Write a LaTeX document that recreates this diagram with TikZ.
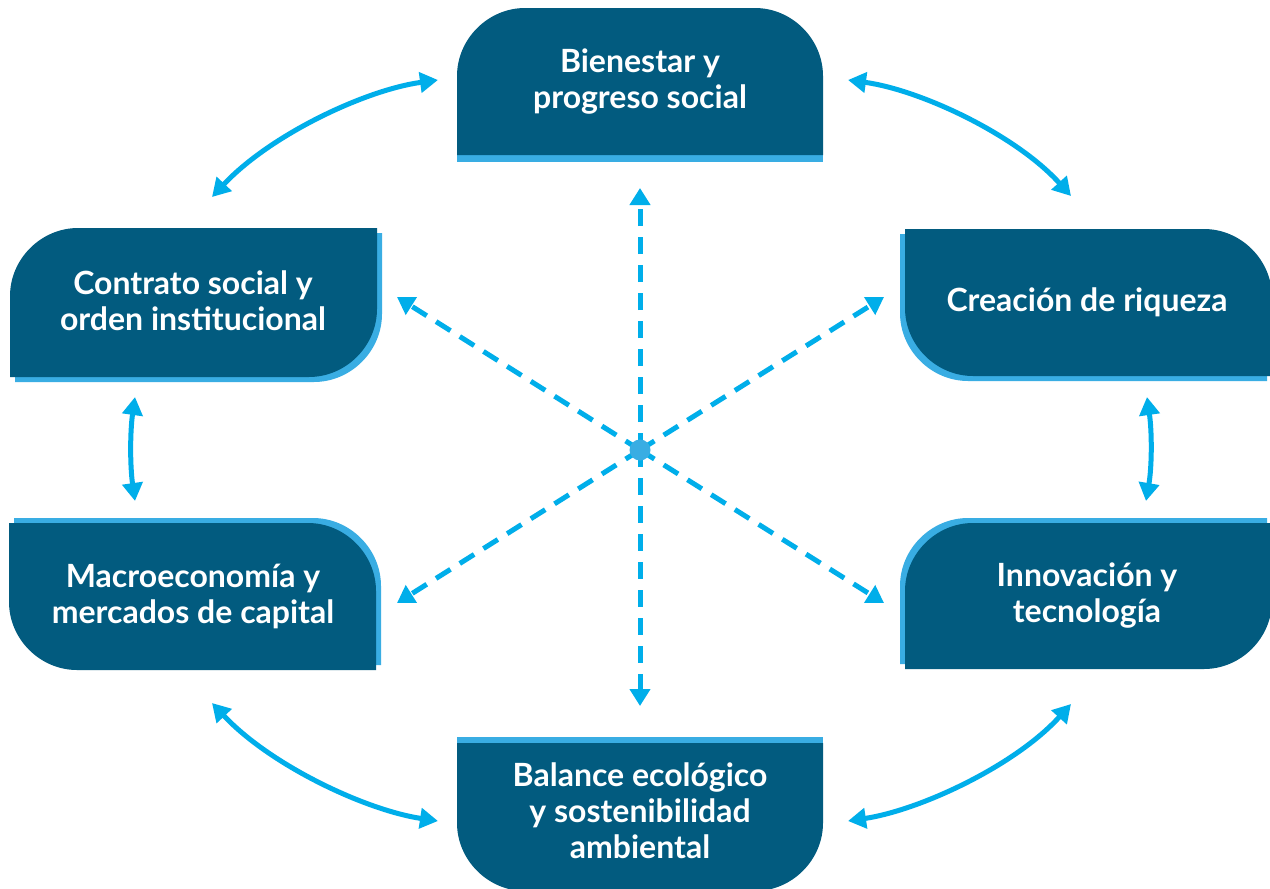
\documentclass[tikz,border=0pt]{standalone}
\usepackage{fontspec}
\setmainfont{Lato}
\usetikzlibrary{arrows.meta}
\definecolor{boxdark}{RGB}{2,91,127}
\definecolor{boxlight}{RGB}{57,173,227}
\definecolor{linkcyan}{RGB}{0,174,234}
\tikzset{
  boxfill/.style={fill=boxdark},
  edgefill/.style={fill=boxlight},
  lbl/.style={text=white, font=\fontsize{32}{36}\selectfont\bfseries, align=center, inner sep=0pt},
  link/.style={draw=linkcyan, line width=5pt, {Triangle[length=18pt,width=20pt]}-{Triangle[length=18pt,width=20pt]}},
  ray/.style={draw=linkcyan, line width=5pt, dash pattern=on 17pt off 11pt, -{Triangle[length=17pt,width=20pt]}}
}
\begin{document}
\begin{tikzpicture}[x=1pt,y=-1pt]
\useasboundingbox (0,0) rectangle (1270,889);
\clip (0,0) rectangle (1270,889);
\fill[white] (0,0) rectangle (1270,889);

% top box
\path[edgefill] (457,154) rectangle (823,162);
\path[boxfill] (457,155) -- (457,76) .. controls (457,39) and (488,8) .. (525,8) -- (755,8) .. controls (792,8) and (823,39) .. (823,76) -- (823,155) -- cycle;

% Contrato social
\path[edgefill, shift={(5,5)}] (10,377) -- (10,296) .. controls (10,259) and (41,228) .. (78,228) -- (377,228) -- (377,309) .. controls (377,346) and (346,377) .. (309,377) -- cycle;
\path[boxfill] (10,377) -- (10,296) .. controls (10,259) and (41,228) .. (78,228) -- (377,228) -- (377,309) .. controls (377,346) and (346,377) .. (309,377) -- cycle;

% Creacion
\path[edgefill, shift={(-5,5)}] (905,229) -- (1204,229) .. controls (1241,229) and (1272,260) .. (1272,297) -- (1272,376) -- (973,376) .. controls (936,376) and (905,345) .. (905,308) -- cycle;
\path[boxfill] (905,229) -- (1204,229) .. controls (1241,229) and (1272,260) .. (1272,297) -- (1272,376) -- (973,376) .. controls (936,376) and (905,345) .. (905,308) -- cycle;

% Macro
\path[edgefill, shift={(5,-5)}] (9,523) -- (308,523) .. controls (345,523) and (376,554) .. (376,591) -- (376,670) -- (77,670) .. controls (40,670) and (9,639) .. (9,602) -- cycle;
\path[boxfill] (9,523) -- (308,523) .. controls (345,523) and (376,554) .. (376,591) -- (376,670) -- (77,670) .. controls (40,670) and (9,639) .. (9,602) -- cycle;

% Innovacion
\path[edgefill, shift={(-5,-5)}] (905,669) -- (905,591) .. controls (905,554) and (936,523) .. (973,523) -- (1272,523) -- (1272,601) .. controls (1272,638) and (1241,669) .. (1204,669) -- cycle;
\path[boxfill] (905,669) -- (905,591) .. controls (905,554) and (936,523) .. (973,523) -- (1272,523) -- (1272,601) .. controls (1272,638) and (1241,669) .. (1204,669) -- cycle;

% bottom box
\path[edgefill] (457,737) rectangle (823,744);
\path[boxfill] (457,743) -- (823,743) -- (823,823) .. controls (823,860) and (792,891) .. (755,891) -- (525,891) .. controls (488,891) and (457,860) .. (457,823) -- cycle;

% labels
\node[lbl] (tB) at (640,82) {Bienestar y\\progreso social};
\node[lbl] (tC) at (193,301) {Contrato social y\\orden institucional};
\node[lbl] (tR) at (1087,302) {Creación de riqueza};
\node[lbl] (tM) at (193,596) {Macroeconomía y\\mercados de capital};
\node[lbl] (tI) at (1087,596) {Innovación y\\tecnología};
\node[lbl] (tE) at (640,811) {Balance ecológico\\y sostenibilidad\\ambiental};

% solid link end points
\coordinate (a1) at (212,197); \coordinate (a2) at (438,80);
\coordinate (b1) at (848,80);  \coordinate (b2) at (1071,196);
\coordinate (c1) at (135,397); \coordinate (c2) at (135,501);
\coordinate (d1) at (1147,397); \coordinate (d2) at (1146,501);
\coordinate (e1) at (212,703); \coordinate (e2) at (438,821);
\coordinate (f1) at (848,821); \coordinate (f2) at (1071,704);

\draw[link] (a1) .. controls (270,135) and (365,90) .. (a2);
\draw[link] (b1) .. controls (921,90) and (1016,135) .. (b2);
\draw[link] (c1) .. controls (130,432) and (130,466) .. (c2);
\draw[link] (d1) .. controls (1152,432) and (1152,466) .. (d2);
\draw[link] (e1) .. controls (270,765) and (365,810) .. (e2);
\draw[link] (f1) .. controls (921,810) and (1016,765) .. (f2);

% rays
\coordinate (c0) at (640,450);
\coordinate (rU) at (640,188);
\coordinate (rD) at (640,706);
\coordinate (rUL) at (397,297);
\coordinate (rUR) at (884,297);
\coordinate (rDL) at (397,603);
\coordinate (rDR) at (884,603);
\foreach \t in {rU,rD,rUL,rUR,rDL,rDR}{
  \draw[ray] (c0) -- (\t);
}
\node[circle, fill=boxlight, minimum size=21pt, inner sep=0pt] (ctr) at (c0) {};
\end{tikzpicture}
\end{document}
